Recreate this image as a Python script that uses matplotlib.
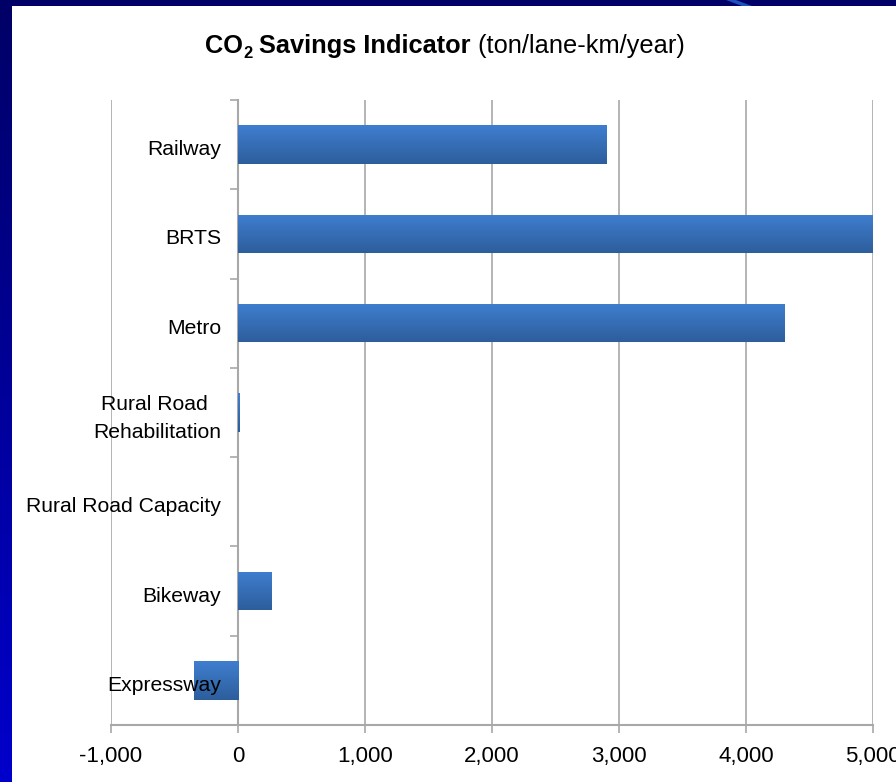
import numpy as np
import matplotlib
matplotlib.use("Agg")
import matplotlib.pyplot as plt
from matplotlib.patches import Rectangle
from matplotlib.ticker import FixedLocator, FuncFormatter
from matplotlib.colors import LinearSegmentedColormap
from matplotlib.transforms import ScaledTranslation

categories = ["Railway", "BRTS", "Metro", "Rural Road \nRehabilitation",
              "Rural Road Capacity", "Bikeway", "Expressway"]
values = [2900, 5000, 4300, 12, 0, 260, -350]
xticks = [-1000, 0, 1000, 2000, 3000, 4000, 5000]

plt.rcParams['font.family'] = ['Liberation Sans', 'DejaVu Sans']

W, H = 896, 782
fig = plt.figure(figsize=(W / 100, H / 100), dpi=100)
fig.patch.set_facecolor('white')

# slide background: navy top strip and gradient left strip
bg = fig.add_axes([0, 0, 1, 1], zorder=-10)
bg.axis('off')
bg.add_patch(Rectangle((0, 0), W, 6, color='#000066', lw=0))
grad = np.linspace(0, 1, 256).reshape(-1, 1)
lcmap = LinearSegmentedColormap.from_list('l', ['#000066', '#0000CC'])
bg.imshow(grad, cmap=lcmap, extent=(0, 12, H, 0), aspect='auto')
bg.add_patch(plt.Polygon([[726, 0], [736, 0], [752, 6], [742, 6]],
                         closed=True, color='#1f4fc0', lw=0))
bg.set_xlim(0, W)
bg.set_ylim(H, 0)

ax = fig.add_axes([111 / W, 57 / H, 762 / W, 625 / H])
n = len(categories)
pos = np.arange(n)[::-1]
bars = ax.barh(pos, values, height=0.43, color='#3670BA', lw=0, zorder=3)

bcmap = LinearSegmentedColormap.from_list('b', ['#2D5E9C', '#3F7ECF'])
for b in bars:
    x0, y0 = b.get_x(), b.get_y()
    w, h = b.get_width(), b.get_height()
    if abs(w) < 1e-9:
        continue
    im = ax.imshow(np.linspace(0, 1, 64).reshape(-1, 1), cmap=bcmap,
                   extent=(min(x0, x0 + w), max(x0, x0 + w), y0, y0 + h),
                   aspect='auto', origin='lower', zorder=4)
    im.set_clip_path(b)

ax.set_xlim(-1000, 5000)
ax.set_ylim(-0.5, n - 0.5)
ax.set_aspect('auto')

ax.set_xticks(xticks)
ax.xaxis.set_major_formatter(FuncFormatter(lambda v, p: f"{int(v):,}"))
ax.grid(axis='x', color='#a8a8a8', lw=1.2, zorder=1)
ax.tick_params(axis='x', length=6, width=1.2, color='#a8a8a8', pad=9,
               labelsize=16, labelcolor='black')

ax.spines['left'].set_position(('data', 0))
for s in ['top', 'right']:
    ax.spines[s].set_visible(False)
for s in ['left', 'bottom']:
    ax.spines[s].set_color('#a8a8a8')
    ax.spines[s].set_linewidth(1.5)
    ax.spines[s].set_zorder(2)

ax.set_yticks(pos)
ax.set_yticklabels(categories, multialignment='center', linespacing=1.6)
ax.yaxis.set_minor_locator(FixedLocator(np.arange(n + 1) - 0.5))
ax.tick_params(axis='y', which='major', length=0, pad=12, labelsize=15.2)
ax.tick_params(axis='y', which='minor', length=6, width=1.2, color='#a8a8a8')
ax.yaxis.set_zorder(10)
for t in ax.get_yticklabels():
    dy = 0 if '\n' in t.get_text() else -3
    t.set_transform(t.get_transform() +
                    ScaledTranslation(0, dy / 100, fig.dpi_scale_trans))

# title made of pieces
fs = 18.3
parts = [("CO", 'bold', 0, fs), ("2", 'bold', -4.5, fs * 0.65),
         (" Savings Indicator", 'bold', 0, fs), (" (ton/lane-km/year)", 'normal', 0, fs)]
fig.canvas.draw()
r = fig.canvas.get_renderer()
texts = []
widths = []
for s, wgt, dy, size in parts:
    t = fig.text(0, 0, s, fontsize=size, fontweight=wgt, va='baseline', ha='left')
    texts.append((t, dy))
    widths.append(t.get_window_extent(r).width)
total = sum(widths)
x = 445 - total / 2
base = H - 53
for (t, dy), w in zip(texts, widths):
    t.set_position((x / W, (base + dy) / H))
    x += w

fig.savefig('out.png', dpi=100)
